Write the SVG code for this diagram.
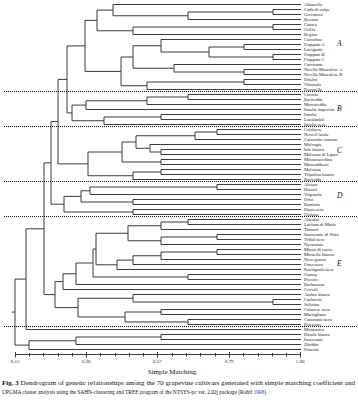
<svg xmlns="http://www.w3.org/2000/svg" width="358" height="400" viewBox="0 0 358 400">
<style>
.c{fill:none;stroke:#3a3a3a;stroke-width:1}
.dot{fill:none;stroke:#111;stroke-width:1.1;stroke-dasharray:1 1}
.lb{font-family:"Liberation Serif",serif;font-size:4.6px;fill:#222}
.grp{font-family:"Liberation Serif",serif;font-size:7.5px;font-style:italic;fill:#111}
.ax{font-family:"Liberation Serif",serif;font-size:5px;fill:#222;text-anchor:middle}
.cap{font-family:"Liberation Serif",serif;font-size:5.2px;fill:#111}
</style>
<rect width="358" height="400" fill="#fff"/>
<g id="connectors" transform="translate(0,0.5)">
<path class="c" d="M113 4H301M273 9H301M273 14H301M188 19H301M273 24H301M273 29H301M133 34H301M161 39H301M244 44H301M244 49H301M273 54H301M273 59H301M174 64H301M244 69H301M244 74H301M244 79H301M244 84H301M147 89H301M188 94H301M188 99H301M147 104H301M86 109H301M161 114H301M161 119H301M104 124H301M217 129H301M217 134H301M195 139H301M150 144H301M161 149H301M161 154H301M161 159H301M161 164H301M161 169H301M161 174H301M133 179H301M217 184H301M217 189H301M90 194H301M133 199H301M133 204H301M133 209H301M133 214H301M188 219H301M188 224H301M161 229H301M217 234H301M217 239H301M161 244H301M217 249H301M217 254H301M161 259H301M133 264H301M117 269H301M188 274H301M188 279H301M76 284H301M63 289H301M133 294H301M273 299H301M273 304H301M161 309H301M161 314H301M188 319H301M188 324H301M26 329H301M161 334H301M161 339H301M76 344H301M29 349H301"/>
<path class="c" d="M188 11.5H273M113 15.25H188M97 9.6H113M133 26.5H273M97 30.25H133M85 19.9H97M209 46.5H244M209 56.5H273M161 51.5H209M133 45.25H161M174 71.5H244M133 67.75H174M121 56.5H133M147 81.5H244M121 85.25H147M85 70.9H121M67 45.4H85M147 96.5H188M86 100.25H147M72 104.6H86M104 116.5H161M72 120.25H104M67 112.4H72M58 78.9H67M195 131.5H217M136 135.25H195M150 151.5H161M136 147.75H150M122 141.5H136M122 161.5H161M88 151.5H122M133 171.5H161M88 175.25H133M58 163.4H88M51 121.1H58M90 186.5H217M81 190.25H90M81 201.5H133M64 195.9H81M64 211.5H133M51 203.7H64M44 162.4H51M161 221.5H188M128 225.25H161M161 236.5H217M128 240.25H161M96 232.75H128M161 251.5H217M133 255.25H161M117 259.6H133M96 264.3H117M93 248.5H96M93 276.5H188M76 262.5H93M63 273.3H76M55 281.1H63M133 301.5H273M78 297.75H133M125 311.5H161M125 321.5H188M78 316.5H125M55 307.1H78M44 294.1H55M26 228.3H44M15 278.6H26M76 336.5H161M29 340.25H76M15 344.6H29M12 311.6H15"/>
<path class="c" d="M273 9V14M188 11.5V19M113 4V15.25M273 24V29M133 26.5V34M97 9.6V30.25M244 44V49M273 54V59M209 46.5V56.5M161 39V51.5M244 69V74M174 64V71.5M133 45.25V67.75M244 79V84M147 81.5V89M121 56.5V85.25M85 19.9V70.9M188 94V99M147 96.5V104M86 100.25V109M161 114V119M104 116.5V124M72 104.6V120.25M67 45.4V112.4M217 129V134M195 131.5V139M161 149V154M150 144V151.5M136 135.25V147.75M161 159V164M122 141.5V161.5M161 169V174M133 171.5V179M88 151.5V175.25M58 78.9V163.4M217 184V189M90 186.5V194M133 199V204M81 190.25V201.5M133 209V214M64 195.9V211.5M51 121.1V203.7M188 219V224M161 221.5V229M217 234V239M161 236.5V244M128 225.25V240.25M217 249V254M161 251.5V259M133 255.25V264M117 259.6V269M96 232.75V264.3M188 274V279M93 248.5V276.5M76 262.5V284M63 273.3V289M273 299V304M133 294V301.5M161 309V314M188 319V324M125 311.5V321.5M78 297.75V316.5M55 281.1V307.1M44 162.4V294.1M26 228.3V329M161 334V339M76 336.5V344M29 340.25V349M15 278.6V344.6"/>
</g>
<g id="separators">
<path class="dot" d="M4 91.5H358M4 126.5H358M4 181.5H358M4 216.5H358M4 326.5H358"/>
</g>
<g id="leaves" class="lb">
<g id="n0"><text x="304" y="5.8">Albanello</text></g>
<g id="n1"><text x="304" y="10.8">Coda di volpe</text></g>
<g id="n2"><text x="304" y="15.8">Grecanico</text></g>
<g id="n3"><text x="304" y="20.8">Recuno</text></g>
<g id="n4"><text x="304" y="25.8">Cantea</text></g>
<g id="n5"><text x="304" y="30.8">Grillo</text></g>
<g id="n6"><text x="304" y="35.8">Regina</text></g>
<g id="n7"><text x="304" y="40.8">Carrufino</text></g>
<g id="n8"><text x="304" y="45.8">Frappato A</text></g>
<g id="n9"><text x="304" y="50.8">Lucignola</text></g>
<g id="n10"><text x="304" y="55.8">Frappato B</text></g>
<g id="n11"><text x="304" y="60.8">Frappato C</text></g>
<g id="n12"><text x="304" y="65.8">Carricante</text></g>
<g id="n13"><text x="304" y="70.8">Nerello Mascalese A</text></g>
<g id="n14"><text x="304" y="75.8">Nerello Mascalese B</text></g>
<g id="n15"><text x="304" y="80.8">Orisiru</text></g>
<g id="n16"><text x="304" y="85.8">Vitranola</text></g>
<g id="n17"><text x="304" y="90.8">Pizzutella</text></g>
<g id="n18"><text x="304" y="95.8">Corinto</text></g>
<g id="n19"><text x="304" y="100.8">Racheddu</text></g>
<g id="n20"><text x="304" y="105.8">Muscatedda</text></g>
<g id="n21"><text x="304" y="110.8">Insolia imperiale</text></g>
<g id="n22"><text x="304" y="115.8">Insolia</text></g>
<g id="n23"><text x="304" y="120.8">Lucalimbil</text></g>
<g id="n24"><text x="304" y="125.8">Insolia nera</text></g>
<g id="n25"><text x="304" y="130.8">Calabrese</text></g>
<g id="n26"><text x="304" y="135.8">Nero d'Avola</text></g>
<g id="n27"><text x="304" y="140.8">Catarratto comune</text></g>
<g id="n28"><text x="304" y="145.8">Malvagia</text></g>
<g id="n29"><text x="304" y="150.8">Ialu bianca</text></g>
<g id="n30"><text x="304" y="155.8">Malvasia di Lipari</text></g>
<g id="n31"><text x="304" y="160.8">Minnavacchina</text></g>
<g id="n32"><text x="304" y="165.8">Muscadduzzi</text></g>
<g id="n33"><text x="304" y="170.8">Malvasia</text></g>
<g id="n34"><text x="304" y="175.8">Tripolina bianca</text></g>
<g id="n35"><text x="304" y="180.8">Racledda</text></g>
<g id="n36"><text x="304" y="185.8">Alzano</text></g>
<g id="n37"><text x="304" y="190.8">Biscari</text></g>
<g id="n38"><text x="304" y="195.8">Visparola</text></g>
<g id="n39"><text x="304" y="200.8">Orisi</text></g>
<g id="n40"><text x="304" y="205.8">Ruminto</text></g>
<g id="n41"><text x="304" y="210.8">Dasta nera</text></g>
<g id="n42"><text x="304" y="215.8">Gioiosa</text></g>
<g id="n43"><text x="304" y="220.8">Alicante</text></g>
<g id="n44"><text x="304" y="225.8">Luciana di Maria</text></g>
<g id="n45"><text x="304" y="230.8">Tinnarii</text></g>
<g id="n46"><text x="304" y="235.8">Insoccante di Noto</text></g>
<g id="n47"><text x="304" y="240.8">Tribol nera</text></g>
<g id="n48"><text x="304" y="245.8">Nyracanto</text></g>
<g id="n49"><text x="304" y="250.8">Minna di vacca</text></g>
<g id="n50"><text x="304" y="255.8">Minnella bianca</text></g>
<g id="n51"><text x="304" y="260.8">Nero grasso</text></g>
<g id="n52"><text x="304" y="265.8">Orno nero</text></g>
<g id="n53"><text x="304" y="270.8">Rossignola nera</text></g>
<g id="n54"><text x="304" y="275.8">Gamay</text></g>
<g id="n55"><text x="304" y="280.8">Precoce</text></g>
<g id="n56"><text x="304" y="285.8">Barbarossa</text></g>
<g id="n57"><text x="304" y="290.8">Crovali</text></g>
<g id="n58"><text x="304" y="295.8">Ambra bianca</text></g>
<g id="n59"><text x="304" y="300.8">Carlaccio</text></g>
<g id="n60"><text x="304" y="305.8">Salinina</text></g>
<g id="n61"><text x="304" y="310.8">Catanese nero</text></g>
<g id="n62"><text x="304" y="315.8">Marsigliana</text></g>
<g id="n63"><text x="304" y="320.8">Catarratto nero</text></g>
<g id="n64"><text x="304" y="325.8">Perricone</text></g>
<g id="n65"><text x="304" y="330.8">Montonico</text></g>
<g id="n66"><text x="304" y="335.8">Dinola bianca</text></g>
<g id="n67"><text x="304" y="340.8">Insaccante</text></g>
<g id="n68"><text x="304" y="345.8">Zibibbo</text></g>
<g id="n69"><text x="304" y="350.8">Francisi</text></g>
</g>
<g id="groups" class="grp">
<text x="337" y="45.5">A</text>
<text x="337" y="110.5">B</text>
<text x="337" y="152.5">C</text>
<text x="337" y="197.5">D</text>
<text x="337" y="265.5">E</text>
</g>
<g id="axis">
<path class="c" d="M15 354.5H300"/>
<path class="c" d="M15.5 352V357.5M86.5 352V357.5M157.5 352V357.5M229.5 352V357.5M300.5 352V357.5"/>
<path class="c" d="M29.5 353V356.5M43.5 353V356.5M58.5 353V356.5M72.5 353V356.5M100.5 353V356.5M115.5 353V356.5M129.5 353V356.5M143.5 353V356.5M172.5 353V356.5M186.5 353V356.5M200.5 353V356.5M215.5 353V356.5M243.5 353V356.5M258.5 353V356.5M272.5 353V356.5M286.5 353V356.5"/>
<text class="ax" x="15" y="363">0.15</text>
<text class="ax" x="86" y="363">0.36</text>
<text class="ax" x="157" y="363">0.57</text>
<text class="ax" x="229" y="363">0.79</text>
<text class="ax" x="300" y="363">1.00</text>
<text x="172" y="374" text-anchor="middle" style="font-family:'Liberation Serif',serif;font-size:7px;fill:#111">Simple Matching</text>
</g>
<g id="caption" class="cap">
<text x="2" y="385" textLength="353" lengthAdjust="spacingAndGlyphs"><tspan font-weight="bold">Fig. 3</tspan>  Dendrogram of genetic relationships among the 70 grapevine cultivars generated with simple matching coefficient and</text>
<text x="2" y="394" textLength="264" lengthAdjust="spacingAndGlyphs">UPGMA cluster analysis using the SAHN-clustering and TREE program of the NTSYS-pc ver. 2.02j package (Rohlf <tspan fill="#1a4fb0">1998</tspan>)</text>
</g>
</svg>
